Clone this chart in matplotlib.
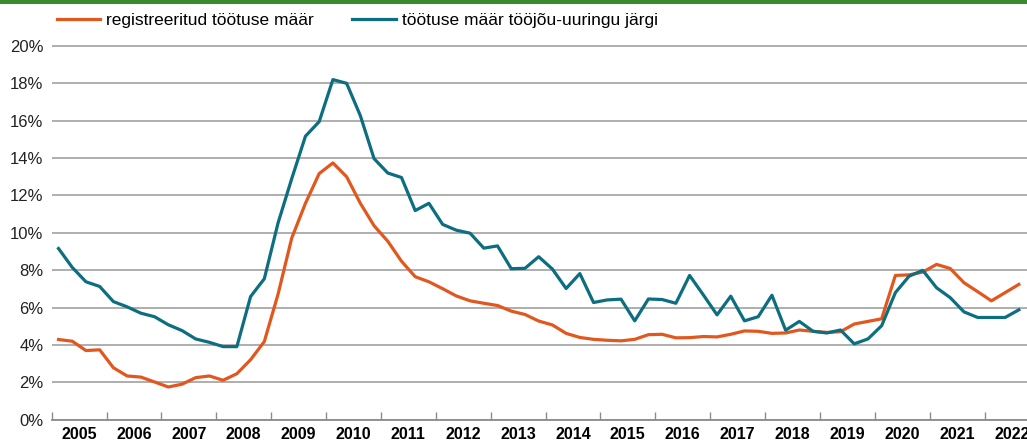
import numpy as np
import matplotlib
matplotlib.use("Agg")
import matplotlib.pyplot as plt
from matplotlib.patches import Rectangle

plt.rcParams['font.family'] = ['Liberation Sans', 'DejaVu Sans']

years = list(range(2005, 2023))

# quarterly values, 2005 Q1 .. 2022 Q3
registered = [4.29, 4.20, 3.70, 3.74, 2.78, 2.34, 2.28, 2.02, 1.75, 1.90, 2.25, 2.34,
              2.11, 2.46, 3.21, 4.18, 6.71, 9.72, 11.58, 13.17, 13.74, 13.0, 11.58, 10.38,
              9.55, 8.48, 7.65, 7.38, 7.01, 6.62, 6.36, 6.23, 6.11, 5.81, 5.63, 5.28,
              5.07, 4.62, 4.40, 4.30, 4.25, 4.22, 4.30, 4.55, 4.57, 4.38, 4.39, 4.45,
              4.43, 4.57, 4.75, 4.73, 4.62, 4.64, 4.80, 4.73, 4.67, 4.71, 5.12, 5.26,
              5.40, 7.72, 7.75, 7.90, 8.31, 8.09, 7.33, 6.85, 6.36, 6.80, 7.24]
lfs = [9.16, 8.15, 7.38, 7.13, 6.32, 6.04, 5.70, 5.51, 5.08, 4.77, 4.32, 4.14,
       3.91, 3.91, 6.59, 7.54, 10.52, 12.9, 15.17, 15.95, 18.2, 18.0, 16.27, 13.97,
       13.2, 12.96, 11.19, 11.58, 10.45, 10.14, 9.98, 9.18, 9.30, 8.08, 8.10, 8.72,
       8.06, 7.02, 7.82, 6.27, 6.41, 6.45, 5.29, 6.46, 6.43, 6.23, 7.72, 6.68,
       5.61, 6.61, 5.29, 5.51, 6.66, 4.79, 5.26, 4.73, 4.64, 4.80, 4.06, 4.32,
       5.03, 6.80, 7.68, 7.99, 7.06, 6.53, 5.77, 5.47, 5.47, 5.47, 5.88]

c_reg = '#e2571e'
c_lfs = '#0c6e80'
c_grid = '#a8a8a8'

fig = plt.figure(figsize=(10.27, 4.43), dpi=100)
ax = fig.add_axes([0.0503, 0.0526, 0.9618, 0.8458])

x = np.arange(len(registered)) + 0.5
l1, = ax.plot(x, registered, color=c_reg, lw=2.3, label='registreeritud töötuse määr')
l2, = ax.plot(x, lfs, color=c_lfs, lw=2.3, label='töötuse määr tööjõu-uuringu järgi')

ax.set_xlim(0, 72)
ax.set_ylim(0, 20.05)
ax.set_yticks(range(0, 21, 2))
ax.set_yticklabels([f'{v}%' for v in range(0, 21, 2)])
ax.yaxis.grid(True, color=c_grid, lw=1.3)
ax.set_axisbelow(True)
for s in ['top', 'right', 'left']:
    ax.spines[s].set_visible(False)
ax.spines['bottom'].set_color('#8c8c8c')
ax.spines['bottom'].set_linewidth(1.3)
ax.tick_params(axis='y', length=0, pad=6, labelsize=12, labelcolor='#222222')

ax.set_xticks(np.arange(0, 73, 4))
ax.set_xticklabels([])
ax.set_xticks(np.arange(2, 72, 4), minor=True)
ax.set_xticklabels([str(y) for y in years], minor=True, fontweight='bold')
ax.tick_params(axis='x', which='major', direction='in', length=6, width=1, color='#8c8c8c')
ax.tick_params(axis='x', which='minor', length=0, pad=5.5, labelsize=11.5)

fig.legend(handles=[l1, l2], loc='center left', bbox_to_anchor=(0.0555, 0.953),
           ncol=2, frameon=False, fontsize=12.5, handlelength=2.5, handletextpad=0.35,
           columnspacing=2.2, borderaxespad=0, borderpad=0)

fig.add_artist(Rectangle((0, 1 - 4 / 443), 1, 4 / 443, transform=fig.transFigure,
                         color='#3a8a2c', lw=0))

fig.savefig('out.png', dpi=100)
